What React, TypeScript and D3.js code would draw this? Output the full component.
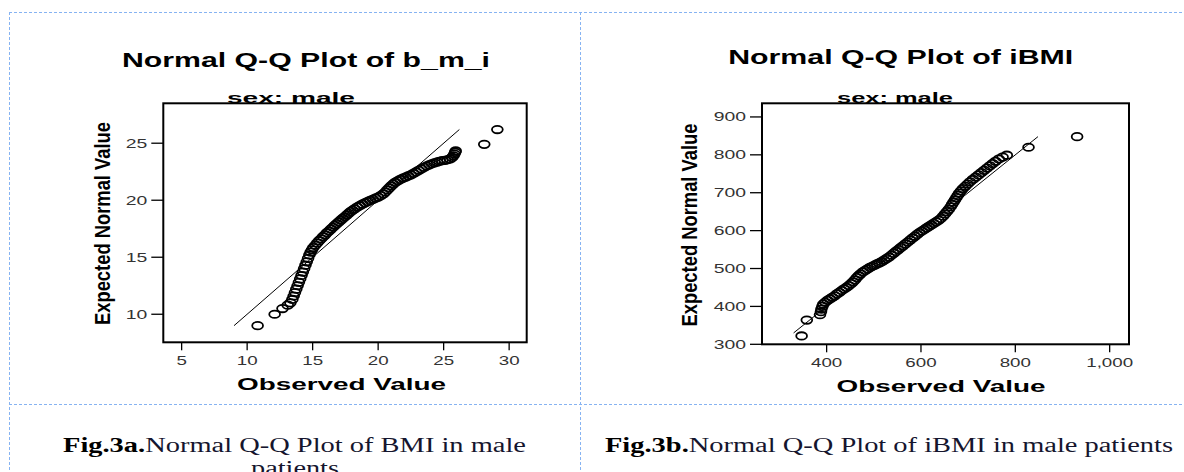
import React from 'react';
import * as d3 from 'd3';

// values
const bmiObserved = [10.8, 12.1, 12.7, 13.1, 13.3, 13.45, 13.55, 13.65, 13.75, 13.85, 13.95, 14.05, 14.15, 14.25, 14.35, 14.45, 14.55, 14.65, 14.75, 14.85, 14.95, 15.05, 15.2, 15.35, 15.5, 15.65, 15.8, 15.95, 16.1, 16.25, 16.4, 16.55, 16.7, 16.85, 17.0, 17.15, 17.3, 17.45, 17.6, 17.75, 17.9, 18.05, 18.2, 18.4, 18.6, 18.8, 19.0, 19.2, 19.4, 19.6, 19.8, 20.0, 20.2, 20.4, 20.55, 20.7, 20.85, 21.0, 21.15, 21.3, 21.5, 21.7, 21.9, 22.1, 22.3, 22.5, 22.7, 22.9, 23.1, 23.3, 23.5, 23.7, 23.9, 24.1, 24.3, 24.5, 24.7, 24.9, 25.1, 25.3, 25.5, 25.65, 25.75, 25.82, 25.88, 25.92, 28.1, 29.1];
const bmiExpected = [9.0, 10.0, 10.5, 10.8, 11.0, 11.3, 11.6, 11.9, 12.2, 12.5, 12.8, 13.1, 13.4, 13.7, 14.0, 14.3, 14.6, 14.9, 15.2, 15.45, 15.65, 15.85, 16.05, 16.25, 16.45, 16.62, 16.8, 16.97, 17.15, 17.3, 17.47, 17.63, 17.8, 17.95, 18.1, 18.25, 18.4, 18.55, 18.7, 18.85, 19.0, 19.12, 19.25, 19.4, 19.52, 19.65, 19.77, 19.88, 19.98, 20.08, 20.18, 20.28, 20.4, 20.55, 20.72, 20.9, 21.08, 21.25, 21.42, 21.56, 21.7, 21.82, 21.93, 22.03, 22.13, 22.23, 22.35, 22.48, 22.62, 22.75, 22.88, 23.0, 23.1, 23.2, 23.28, 23.35, 23.42, 23.47, 23.5, 23.55, 23.62, 23.75, 23.9, 24.05, 24.2, 24.32, 24.9, 26.2];
const bmiLine = [9, 26.2];
const bmiXTicks = [5, 10, 15, 20, 25, 30];
const bmiYTicks = [10, 15, 20, 25];

const ibmiObserved = [347, 358, 386, 388, 389, 391, 393, 397, 402, 407, 412, 417, 422, 427, 432, 437, 442, 447, 452, 456, 460, 464, 468, 472, 477, 482, 487, 492, 497, 502, 507, 512, 517, 522, 527, 532, 537, 542, 547, 552, 557, 562, 567, 572, 577, 582, 587, 592, 597, 602, 607, 612, 617, 622, 627, 632, 637, 642, 647, 651, 655, 659, 663, 666, 669, 672, 675, 678, 681, 685, 689, 694, 699, 704, 710, 716, 722, 728, 734, 740, 746, 752, 758, 765, 773, 782, 828, 931];
const ibmiExpected = [322, 364, 378, 386, 393, 400, 406, 411, 416, 420, 424, 428, 433, 437, 442, 446, 450, 455, 460, 465, 470, 476, 481, 486, 491, 495, 499, 503, 506, 509, 512, 515, 518, 522, 526, 530, 535, 540, 545, 550, 555, 560, 565, 570, 575, 580, 585, 590, 595, 599, 603, 607, 611, 615, 619, 623, 627, 632, 638, 644, 650, 656, 663, 669, 675, 681, 687, 693, 699, 705, 711, 717, 723, 729, 735, 741, 747, 753, 759, 765, 771, 777, 783, 789, 794, 799, 820, 848];
const ibmiLine = [330, 848];
const ibmiXTicks = [400, 600, 800, 1000];
const ibmiYTicks = [300, 400, 500, 600, 700, 800, 900];

const SANS = '"Liberation Sans", Arial, Helvetica, sans-serif';
const SERIF = '"Liberation Serif", "Times New Roman", serif';
const GRID = '#86b3f2';

interface PanelProps {
  title: string;
  titleX: number;
  titleY: number;
  titleLen: number;
  subX: number;
  subLen: number;
  box: { left: number; top: number; right: number; bottom: number };
  xDomain: [number, number];
  yDomain: [number, number];
  xTicks: number[];
  yTicks: number[];
  obs: number[];
  exp: number[];
  lineRange: number[];
  yLabelX: number;
  yLabelY: number;
  xLabelX: number;
  xLabelY: number;
  tickLabelY: number;
  fmt: (v: number) => string;
}

const QQPanel: React.FC<PanelProps> = p => {
  const { box } = p;
  const x = d3.scaleLinear().domain(p.xDomain).range([box.left, box.right]);
  const y = d3.scaleLinear().domain(p.yDomain).range([box.bottom, box.top]);
  const pts = p.obs.map((o, i) => [o, p.exp[i]] as [number, number]);
  const ref = d3
    .line<number>()
    .x(v => x(v))
    .y(v => y(v))(p.lineRange);

  return (
    <g fontFamily={SANS}>
      <text x={p.titleX} y={p.titleY} textAnchor="middle" fontSize={21} fontWeight="bold"
        textLength={p.titleLen} lengthAdjust="spacingAndGlyphs">{p.title}</text>
      <text x={p.subX} y={102.5} textAnchor="middle" fontSize={15} fontWeight="bold"
        textLength={p.subLen} lengthAdjust="spacingAndGlyphs">sex: male</text>
      <rect x={box.left} y={box.top} width={box.right - box.left} height={box.bottom - box.top}
        fill="white" stroke="black" strokeWidth={2} />

      {p.yTicks.map(t => (
        <g key={'y' + t}>
          <line x1={box.left - 12} x2={box.left} y1={y(t)} y2={y(t)} stroke="black" strokeWidth={1.3} />
          <text transform={`translate(${box.left - 16},${y(t) + 4.5}) scale(1.55,1)`} textAnchor="end"
            fontSize={12.5} fill="#333">{p.fmt(t)}</text>
        </g>
      ))}
      {p.xTicks.map(t => (
        <g key={'x' + t}>
          <line x1={x(t)} x2={x(t)} y1={box.bottom} y2={box.bottom + 8} stroke="black" strokeWidth={1.3} />
          <text transform={`translate(${x(t)},${p.tickLabelY}) scale(1.5,1)`} textAnchor="middle"
            fontSize={12.5} fill="#333">{p.fmt(t)}</text>
        </g>
      ))}

      <path d={ref || ''} fill="none" stroke="black" strokeWidth={1} />
      {pts.map((d, i) => (
        <ellipse key={i} cx={x(d[0])} cy={y(d[1])} rx={5.4} ry={3.7} fill="none" stroke="black" strokeWidth={1.8} />
      ))}

      <text x={p.xLabelX} y={p.xLabelY} textAnchor="middle" fontSize={17} fontWeight="bold"
        textLength={209} lengthAdjust="spacingAndGlyphs">Observed Value</text>
      <text transform={`translate(${p.yLabelX},${p.yLabelY}) rotate(-90) scale(1,1.2)`} textAnchor="middle"
        fontSize={18} fontWeight="bold" textLength={203} lengthAdjust="spacingAndGlyphs">Expected Normal Value</text>
    </g>
  );
};

const App: React.FC = () => {
  const plain = d3.format('d');
  const comma = d3.format(',');
  return (
    <svg width={1184} height={472} style={{ position: 'absolute', left: 0, top: 0, background: 'white' }}>
      <g stroke={GRID} strokeWidth={1} strokeDasharray="3,2">
        <line x1={9} x2={1184} y1={12.5} y2={12.5} />
        <line x1={9} x2={1184} y1={404.5} y2={404.5} />
        <line x1={9.5} x2={9.5} y1={12} y2={472} />
        <line x1={580.5} x2={580.5} y1={12} y2={472} />
      </g>

      <QQPanel
        title="Normal Q-Q Plot of b_m_i" titleX={306} titleY={67} titleLen={368}
        subX={291} subLen={128}
        box={{ left: 163.3, top: 103.3, right: 526.7, bottom: 342.3 }}
        xDomain={[3.6, 31.34]} yDomain={[7.54, 28.5]}
        xTicks={bmiXTicks} yTicks={bmiYTicks}
        obs={bmiObserved} exp={bmiExpected} lineRange={bmiLine}
        yLabelX={110.3} yLabelY={223.5} xLabelX={341.5} xLabelY={390} tickLabelY={365}
        fmt={plain}
      />
      <QQPanel
        title="Normal Q-Q Plot of iBMI" titleX={900.7} titleY={64} titleLen={345}
        subX={895} subLen={116}
        box={{ left: 762, top: 103.3, right: 1129, bottom: 344.3 }}
        xDomain={[263, 1041]} yDomain={[300, 936]}
        xTicks={ibmiXTicks} yTicks={ibmiYTicks}
        obs={ibmiObserved} exp={ibmiExpected} lineRange={ibmiLine}
        yLabelX={696.5} yLabelY={225} xLabelX={941} xLabelY={392} tickLabelY={366.7}
        fmt={comma}
      />

      <g fontFamily={SERIF} fontSize={20}>
        <text x={63} y={452} textLength={463} lengthAdjust="spacingAndGlyphs">
          <tspan fontWeight="bold" fill="black">Fig.3a.</tspan>
          <tspan fill="#15152e">Normal Q-Q Plot of BMI in male</tspan>
        </text>
        <text x={295} y={475} textAnchor="middle" fill="#15152e" textLength={88}
          lengthAdjust="spacingAndGlyphs">patients</text>
        <text x={605} y={452} textLength={568} lengthAdjust="spacingAndGlyphs">
          <tspan fontWeight="bold" fill="black">Fig.3b.</tspan>
          <tspan fill="#15152e">Normal Q-Q Plot of iBMI in male patients</tspan>
        </text>
      </g>
    </svg>
  );
};

export default App;
